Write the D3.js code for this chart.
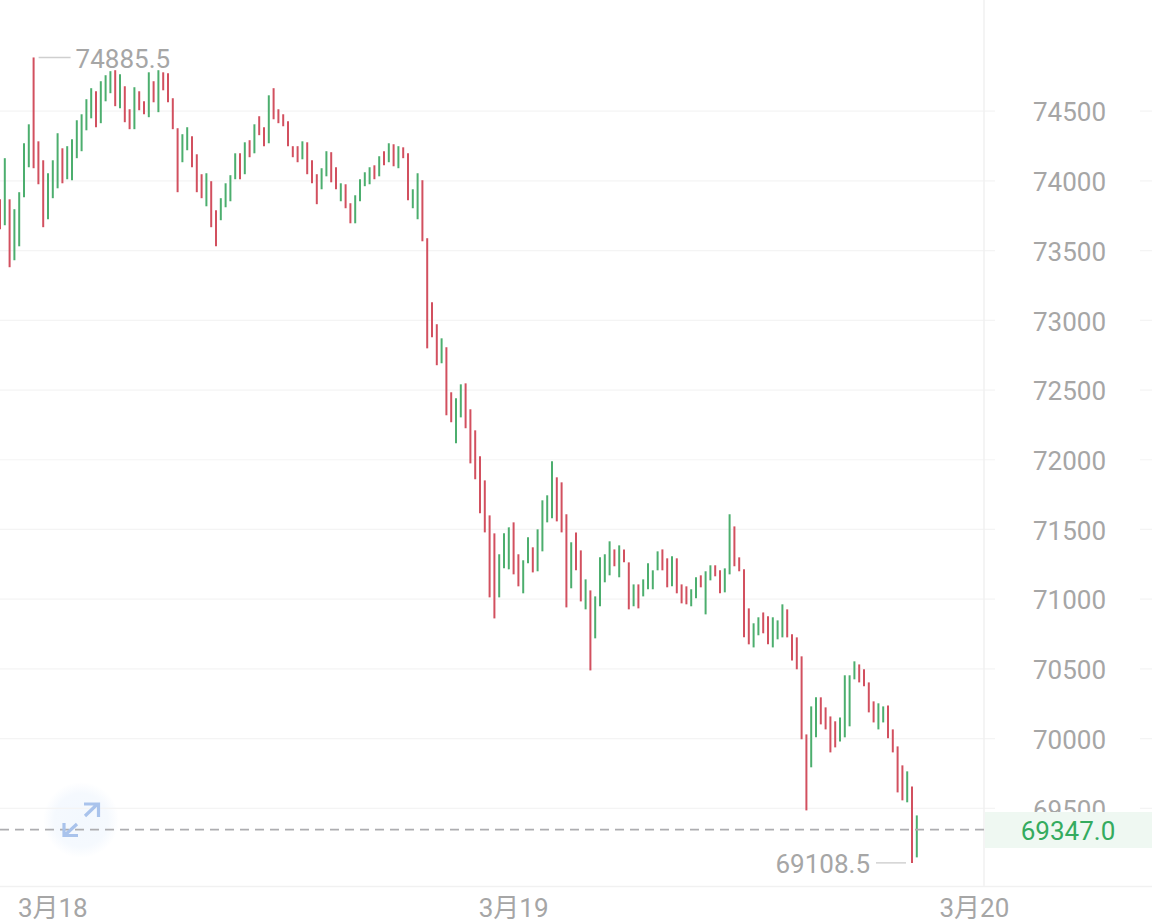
<!DOCTYPE html>
<html>
<head>
<meta charset="utf-8">
<style>
html,body{margin:0;padding:0;background:#fff;overflow:hidden}
svg{display:block}
text{font-family:Roboto,"Noto Sans CJK SC",sans-serif;font-size:26px}
</style>
<script src="https://cdn.jsdelivr.net/npm/d3@7/dist/d3.min.js"></script>
</head>
<body>
<svg id="chart" width="1152" height="921"></svg>
<script>
const highs = [
73868,74163,73868,73797,73919,74270,74406,74885.5,74284,74148,
74055,74148,74342,74234,74249,74299,74435,74478,74586,74665,
74643,74715,74758,74787,74794,74765,74679,74514,74672,74643,
74571,74779,74715,74794,74779,74772,74593,74378,74335,74385,
74320,74191,74048,74055,73998,73789,73876,73983,74041,74198,
74198,74277,74292,74406,74464,74385,74614,74665,74514,74478,
74428,74249,74249,74284,74277,74148,74048,74091,74213,74206,
74098,73983,73976,73840,73897,74012,74062,74098,74112,74177,
74213,74270,74263,74249,74241,74198,73940,74055,74005,73589,
73129,72972,72871,72807,72484,72441,72541,72548,72362,72211,
72025,71852,71601,71472,71322,71472,71515,71551,71322,71279,
71444,71372,71501,71709,71745,71989,71874,71838,71609,71408,
71479,71350,71142,71063,71020,71300,71322,71415,71357,71386,
71357,71264,71106,71106,71142,71257,71207,71343,71357,71293,
71307,71293,71106,71092,71071,71157,71171,71200,71243,71243,
71207,71221,71609,71522,71300,71214,70934,70827,70870,70905,
70877,70870,70848,70963,70927,70748,70726,70590,70030,70231,
70296,70296,70224,70159,70124,70152,70454,70454,70554,70532,
70497,70403,70267,70253,70231,70238,70066,69944,69808,69765,
69657,69449];
const lows = [
73653,73682,73381,73431,73531,73883,74098,74091,73976,73668,
73725,73876,73947,73983,74012,74005,74163,74213,74363,74449,
74385,74414,74571,74629,74536,74521,74421,74371,74371,74507,
74478,74457,74564,74493,74650,74564,74371,73919,74134,74220,
74098,73919,73876,73818,73668,73531,73718,73811,73854,74012,
74012,74048,74170,74198,74328,74249,74270,74442,74414,74392,
74249,74170,74134,74155,74048,73983,73833,73940,74033,73990,
73940,73854,73804,73696,73696,73854,73962,73976,74012,74033,
74112,74134,74105,74091,74163,73861,73804,73725,73567,72799,
72878,72678,72692,72319,72269,72118,72304,72226,71974,71860,
71616,71479,71013,70862,71013,71221,71214,71178,71092,71042,
71257,71192,71200,71343,71551,71580,71558,71479,70941,71078,
71207,70984,70927,70489,70719,70949,71121,71171,71236,71157,
71264,70927,70949,70934,71020,71071,71071,71207,71207,71085,
71092,71042,70970,70963,70949,71006,71085,70891,71135,71164,
71042,71049,71178,71236,71200,70726,70676,70654,70741,70755,
70676,70654,70712,70726,70726,70561,70497,69995,69485,69794,
70009,70102,70066,69901,69937,69980,70009,70088,70425,70403,
70375,70188,70116,70066,70116,70002,69901,69614,69557,69543,
69108.5,69148];
// r = fell, g = rose
const directions = (
"rgrggggrrr"+"gggrgggggg"+"rgggrgrrgr"+"rgrgrrrrgg"+"rrrgrrgggg"+
"rgrgrrgrrr"+"rrrgrrrggr"+"rgrrggggrg"+"rgrgrrggrr"+"rrgrrggrrr"+
"rrrrgggrrg"+"grggggrrrg"+"rrgrggggrg"+"rrgrggggrr"+"grrrggrggr"+
"rggrrrrggr"+"rgggrrrrrg"+"grrrrggggr"+"rrrggrrrrg"+"rg").split("");
const priceTicks = [69500,70000,70500,71000,71500,72000,72500,73000,73500,74000,74500];
const dateTickIndex = [11,107,203];
const dateTickLabels = ["3月18","3月19","3月20"];
const lastPrice = 69347.0;
const maxPrice = 74885.5, maxIndex = 7;
const minPrice = 69108.5, minIndex = 190;

const RED="#d2505f", GREEN="#4cae6e", AXIS="#f1f1f1", TXT="#a6a6a6";
const plotRight=984, plotBottom=886.5, W=1152;
const svg=d3.select("#chart");

const disc=svg.append("defs").append("radialGradient").attr("id","disc");
disc.append("stop").attr("offset","0%").attr("stop-color","#f3f8fe");
disc.append("stop").attr("offset","70%").attr("stop-color","#f5f9fe");
disc.append("stop").attr("offset","100%").attr("stop-color","#ffffff");

const x=d3.scaleLinear().domain([0,191]).range([0,916.8]);
const y=d3.scaleLinear().domain([69500,74500]).range([808.3,111.2]);

// button disc
svg.append("circle").attr("cx",81).attr("cy",820).attr("r",38).attr("fill","url(#disc)");

// grid lines
svg.append("g").selectAll("line").data(priceTicks).join("line")
  .attr("x1",0).attr("x2",W)
  .attr("y1",d=>y(d)).attr("y2",d=>y(d))
  .attr("stroke","#f4f4f4").attr("stroke-width",1.2);

// label backing
svg.append("rect").attr("x",995).attr("y",0).attr("width",145).attr("height",plotBottom).attr("fill","#fff");

// frame
svg.append("line").attr("x1",plotRight).attr("x2",plotRight).attr("y1",0).attr("y2",plotBottom).attr("stroke",AXIS).attr("stroke-width",1.5);
svg.append("line").attr("x1",0).attr("x2",W).attr("y1",plotBottom).attr("y2",plotBottom).attr("stroke",AXIS).attr("stroke-width",1.5);

// price axis
const yAxis=svg.append("g").attr("transform","translate(1106,0.6)")
  .call(d3.axisRight(y).tickValues(priceTicks).tickSize(0).tickPadding(0).tickFormat(d3.format("d")));
yAxis.select(".domain").remove();
yAxis.selectAll("text").attr("text-anchor","end").attr("fill",TXT).attr("x",0).attr("dy","0.35em");

// date axis
const xAxis=svg.append("g").attr("transform","translate(0,"+plotBottom+")")
  .call(d3.axisBottom(x).tickValues(dateTickIndex).tickSize(0).tickPadding(0)
    .tickFormat((d,i)=>dateTickLabels[i]));
xAxis.select(".domain").remove();
xAxis.selectAll("text").attr("fill",TXT).attr("y",30).attr("dy",0).attr("dx",-0.5);

// last price tag
svg.append("rect").attr("x",plotRight+1).attr("y",812).attr("width",W-plotRight-1).attr("height",36).attr("fill","#eff8f2");
svg.append("text").attr("x",1068).attr("y",y(lastPrice)+1).attr("dy","0.35em").attr("text-anchor","middle")
  .attr("fill","#35ab5f").text(lastPrice.toFixed(1));

// bars
svg.append("g").selectAll("line").data(highs).join("line")
  .attr("x1",(d,i)=>x(i)).attr("x2",(d,i)=>x(i))
  .attr("y1",d=>y(d)).attr("y2",(d,i)=>y(lows[i]))
  .attr("stroke",(d,i)=>directions[i]==="r"?RED:GREEN)
  .attr("stroke-width",2);

// last price line
svg.append("line").attr("x1",0).attr("x2",plotRight).attr("y1",y(lastPrice)).attr("y2",y(lastPrice))
  .attr("stroke","#adadb0").attr("stroke-width",1.8).attr("stroke-dasharray","9 6");

// button arrows
svg.append("path")
  .attr("d","M85 816L97 804.5M84 804H98.5V817M77 824L65 835M64 823V835.5H78")
  .attr("fill","none").attr("stroke","#a9c3ec").attr("stroke-width",3.2);

// extremes
svg.append("line").attr("x1",x(maxIndex)+5).attr("x2",x(maxIndex)+37).attr("y1",y(maxPrice)).attr("y2",y(maxPrice)).attr("stroke","#cfcfcf").attr("stroke-width",1.4);
svg.append("text").attr("x",x(maxIndex)+42).attr("y",y(maxPrice)+1).attr("dy","0.35em").attr("fill",TXT).text(maxPrice.toFixed(1));
svg.append("line").attr("x1",x(minIndex)-36).attr("x2",x(minIndex)-6).attr("y1",y(minPrice)).attr("y2",y(minPrice)).attr("stroke","#cfcfcf").attr("stroke-width",1.4);
svg.append("text").attr("x",x(minIndex)-42).attr("y",y(minPrice)+1).attr("dy","0.35em").attr("text-anchor","end").attr("fill",TXT).text(minPrice.toFixed(1));
</script>
</body>
</html>
